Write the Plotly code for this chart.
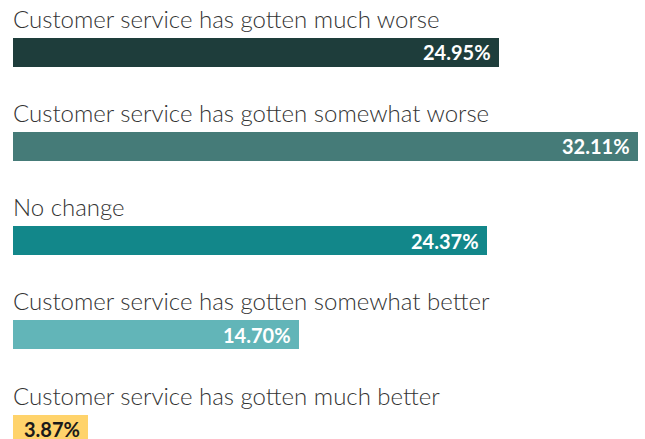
import plotly.graph_objects as go

categories = [
    "Customer service has gotten much worse",
    "Customer service has gotten somewhat worse",
    "No change",
    "Customer service has gotten somewhat better",
    "Customer service has gotten much better",
]
values = [24.95, 32.11, 24.37, 14.70, 3.87]
colors = ["#1e3d3b", "#457b78", "#12878a", "#62b5b8", "#ffd36b"]
text_colors = ["#ffffff", "#ffffff", "#ffffff", "#ffffff", "#1a1a1a"]

positions = list(range(len(categories)))
bar_w = 0.307

fig = go.Figure()
fig.add_trace(go.Bar(
    x=values,
    y=positions,
    orientation="h",
    width=bar_w,
    marker=dict(color=colors, line=dict(width=0)),
    hoverinfo="skip",
))

annotations = []
for i, (cat, v, tc) in enumerate(zip(categories, values, text_colors)):
    annotations.append(dict(
        x=0, y=i - bar_w / 2, xref="x", yref="y",
        text=cat, showarrow=False, xanchor="left", yanchor="bottom",
        yshift=3, xshift=-2,
        font=dict(family="Lato, 'Open Sans', sans-serif", size=24, color="#333333", weight=300),
    ))
    annotations.append(dict(
        x=v, y=i, xref="x", yref="y",
        text=f"{v:.2f}%", showarrow=False, xanchor="right", yanchor="middle",
        xshift=-6,
        font=dict(family="Lato, 'Open Sans', sans-serif", size=20, color=tc, weight=700),
    ))

fig.update_layout(
    width=645, height=439,
    margin=dict(l=13, r=7, t=0, b=0),
    paper_bgcolor="white", plot_bgcolor="white",
    showlegend=False,
    bargap=0,
    xaxis=dict(range=[0, 32.11], visible=False, fixedrange=True),
    yaxis=dict(range=[4.105, -0.555], visible=False, fixedrange=True),
    annotations=annotations,
)

fig.write_html("out.html")
